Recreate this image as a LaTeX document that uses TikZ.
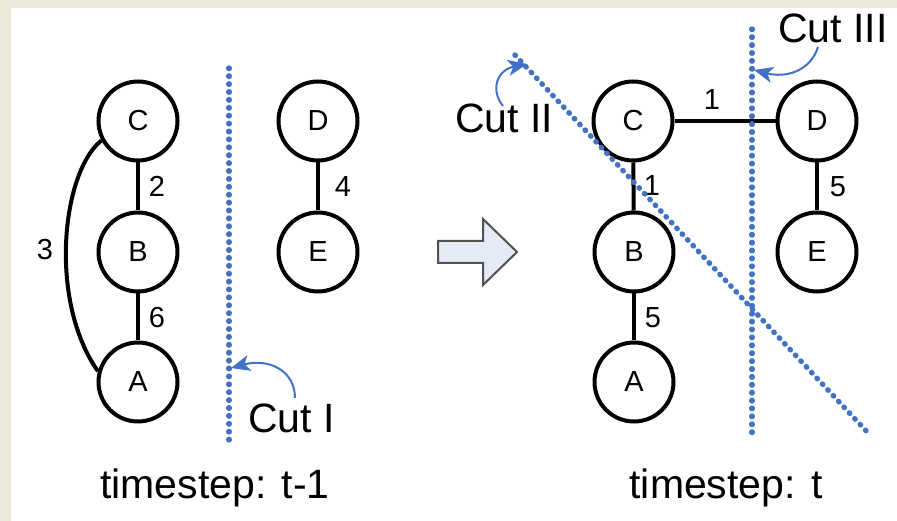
\documentclass[tikz,border=0pt]{standalone}
\usepackage{fontspec}
\setmainfont{Liberation Sans}
\usetikzlibrary{arrows.meta}
\definecolor{pagebeige}{RGB}{237,233,217}
\definecolor{cutblue}{RGB}{66,114,198}
\definecolor{arrowfill}{RGB}{228,234,246}
\definecolor{arrowedge}{RGB}{80,80,80}
\tikzset{
  vertex/.style={circle, draw=black, line width=4pt, minimum size=79pt, inner sep=0pt,
                 font=\fontsize{29}{29}\selectfont},
  edge/.style={draw=black, line width=4pt},
  weight/.style={font=\fontsize{29}{29}\selectfont, inner sep=0pt},
  cutline/.style={draw=cutblue, line width=5.4pt, line cap=round, dash pattern=on 0.6pt off 7.3pt},
  cutlabel/.style={font=\fontsize{41}{41}\selectfont, inner sep=0pt, anchor=base west},
  pointer/.style={draw=cutblue, line width=2pt, -{Stealth[length=19pt,width=16pt,inset=5pt]}},
  caption/.style={font=\fontsize{41}{41}\selectfont, inner sep=0pt, anchor=base}
}
\begin{document}
\begin{tikzpicture}[x=1pt,y=-1pt]
  % page background and white panel
  \fill[pagebeige] (0,0) rectangle (897,521);
  \fill[white] (11,8) rectangle (897,521);
  \useasboundingbox (0,0) rectangle (897,521);

  % ---- graph at timestep t-1 ----
  \node[vertex] (lC) at (138,121) {C};
  \node[vertex] (lB) at (138,252) {B};
  \node[vertex] (lA) at (138,382) {A};
  \node[vertex] (lD) at (318,121) {D};
  \node[vertex] (lE) at (318,252) {E};
  \draw[edge] (lC) -- (lB);
  \draw[edge] (lB) -- (lA);
  \draw[edge] (lD) -- (lE);
  \draw[edge] (lC.208) .. controls (62,172) and (48,300) .. (lA.165);
  \node[weight] at (157,186) {2};
  \node[weight] at (157,318) {6};
  \node[weight] at (45,250) {3};
  \node[weight] at (343,187) {4};

  % cut I
  \coordinate (cutItop) at (229,68);
  \coordinate (cutIbot) at (229,447);
  \draw[cutline] (cutItop) -- (cutIbot);
  \node[cutlabel] (cutI) at (248,432) {Cut I};
  \coordinate (cutIhit) at (231,368);
  \draw[pointer] (295,398) .. controls (295,370) and (268,358) .. (cutIhit);

  \node[caption] at (215,498) {timestep: t-1};

  % ---- transition arrow ----
  \draw[fill=arrowfill, draw=arrowedge, line width=2pt, line join=miter]
    (438,241) -- (483,241) -- (483,219) -- (517,252) -- (483,285) -- (483,263) -- (438,263) -- cycle;

  % ---- graph at timestep t ----
  \node[vertex] (rC) at (633,121) {C};
  \node[vertex] (rD) at (817,121) {D};
  \node[vertex] (rB) at (634,252) {B};
  \node[vertex] (rE) at (817,252) {E};
  \node[vertex] (rA) at (634,382) {A};
  \draw[edge] (rC) -- (rD);
  \draw[edge] (rC) -- (rB);
  \draw[edge] (rB) -- (rA);
  \draw[edge] (rD) -- (rE);
  \node[weight] at (712,100) {1};
  \node[weight] at (652,186) {1};
  \node[weight] at (838,187) {5};
  \node[weight] at (653,318) {5};

  % cut II (diagonal)
  \coordinate (cutIItop) at (515,55);
  \coordinate (cutIIbot) at (870,435);
  \draw[cutline] (cutIItop) -- (cutIIbot);
  \node[cutlabel] (cutII) at (455,133) {Cut II};
  \coordinate (cutIIhit) at (527,64);
  \draw[pointer] (503,106) .. controls (490,90) and (497,70) .. (cutIIhit);

  % cut III (vertical)
  \coordinate (cutIIItop) at (752,29);
  \coordinate (cutIIIbot) at (752,433);
  \draw[cutline] (cutIIItop) -- (cutIIIbot);
  \node[cutlabel] (cutIII) at (778,43) {Cut III};
  \coordinate (cutIIIhit) at (754,70);
  \draw[pointer] (818,47) .. controls (810,72) and (785,78) .. (cutIIIhit);

  \node[caption] at (726,498) {timestep: t};
\end{tikzpicture}
\end{document}
